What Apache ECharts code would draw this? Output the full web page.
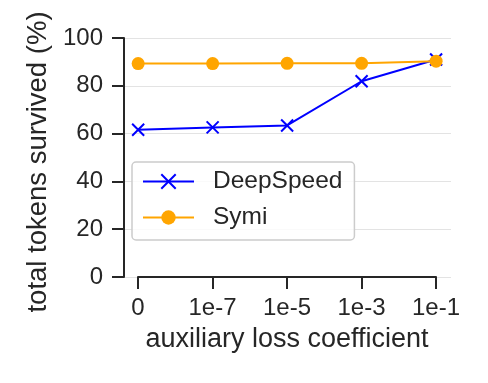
<!DOCTYPE html>
<html>
<head>
<meta charset="utf-8">
<script src="https://cdn.jsdelivr.net/npm/echarts@6/dist/echarts.min.js"></script>
<style>
  html, body { margin: 0; padding: 0; background: #ffffff; }
  #chart { width: 488px; height: 383px; }
</style>
</head>
<body>
<div id="chart"></div>
<script>
var categories = ['0', '1e-7', '1e-5', '1e-3', '1e-1'];
var deepSpeed = [61.6, 62.6, 63.4, 81.9, 91.0];
var symi = [89.3, 89.3, 89.4, 89.4, 90.3];
var yTicks = [0, 20, 40, 60, 80, 100];

(function() {
  var ink = '#262626';
  var font = '"Liberation Sans", Arial, sans-serif';

  function pairs(values) {
    return values.map(function(v, i) { return [i, v]; });
  }

  var chart = echarts.init(document.getElementById('chart'), null, { renderer: 'canvas' });
  chart.setOption({
    animation: false,
    textStyle: { fontFamily: font },
    grid: [
      { left: 124, right: 37, top: 38, bottom: 106 },
      { left: 138, right: 52, top: 38, bottom: 106 }
    ],
    xAxis: [
      {
        gridIndex: 0,
        type: 'value',
        min: -0.19,
        max: 4.2,
        show: false
      },
      {
        gridIndex: 1,
        type: 'category',
        data: categories,
        boundaryGap: false,
        axisLine: { show: true, lineStyle: { color: ink, width: 2 } },
        axisTick: { show: true, length: 12, lineStyle: { color: ink, width: 2 }, alignWithLabel: true },
        axisLabel: { color: ink, fontSize: 24, margin: 19, fontFamily: font },
        splitLine: { show: false },
        name: 'auxiliary loss coefficient',
        nameLocation: 'middle',
        nameGap: 49,
        nameTextStyle: { color: ink, fontSize: 27, fontFamily: font }
      }
    ],
    yAxis: [
      {
        gridIndex: 0,
        type: 'value',
        min: yTicks[0],
        max: yTicks[yTicks.length - 1],
        interval: yTicks[1] - yTicks[0],
        axisLine: { show: true, onZero: false, lineStyle: { color: ink, width: 2 } },
        axisTick: { show: true, length: 12, lineStyle: { color: ink, width: 2 } },
        axisLabel: { color: ink, fontSize: 24, margin: 21, fontFamily: font },
        splitLine: { show: true, lineStyle: { color: '#e3e3e3', width: 1 } },
        name: 'total tokens survived (%)',
        nameLocation: 'middle',
        nameGap: 64,
        nameTextStyle: { color: ink, fontSize: 27.5, fontFamily: font, padding: [0, 9, 0, 0] }
      },
      {
        gridIndex: 1,
        type: 'value',
        min: 0,
        max: 100,
        show: false
      }
    ],
    legend: {
      orient: 'vertical',
      left: 132,
      top: 162,
      itemWidth: 51,
      itemHeight: 18,
      itemGap: 11,
      padding: [7, 12, 10, 10],
      borderColor: '#cccccc',
      borderWidth: 1.5,
      borderRadius: 4,
      backgroundColor: 'rgba(255,255,255,0.8)',
      textStyle: { color: ink, fontSize: 24.5, fontFamily: font, padding: [0, 0, 0, 14] },
      data: ['DeepSpeed', 'Symi']
    },
    series: [
      {
        name: 'DeepSpeed',
        type: 'line',
        xAxisIndex: 0,
        yAxisIndex: 0,
        data: pairs(deepSpeed),
        symbol: 'path://M0,0L10,10M10,0L0,10',
        symbolSize: 12,
        lineStyle: { color: '#0000ff', width: 2 },
        itemStyle: { color: 'rgba(0,0,0,0)', borderColor: '#0000ff', borderWidth: 2 }
      },
      {
        name: 'Symi',
        type: 'line',
        xAxisIndex: 0,
        yAxisIndex: 0,
        data: pairs(symi),
        symbol: 'circle',
        symbolSize: 13,
        lineStyle: { color: '#ffa500', width: 2 },
        itemStyle: { color: '#ffa500', borderWidth: 0 }
      }
    ]
  });
  window.addEventListener('resize', function() { chart.resize(); });
})();
</script>
</body>
</html>
